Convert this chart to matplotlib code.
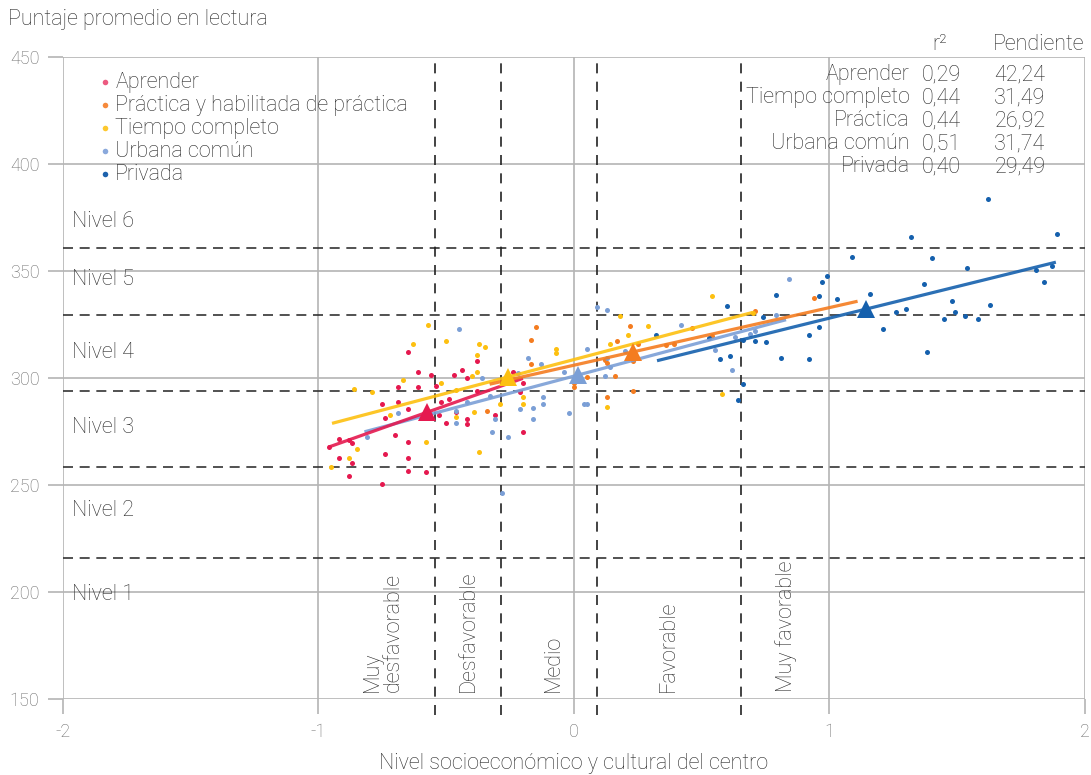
import matplotlib
matplotlib.use('Agg')
import matplotlib.pyplot as plt
import numpy as np

plt.rcParams['font.family'] = ['Roboto', 'DejaVu Sans']
plt.rcParams['font.weight'] = 'light'
plt.rcParams['axes.unicode_minus'] = False

# --- data ---
aprender_x = [-0.96, -0.92, -0.92, -0.88, -0.87, -0.88, -0.87, -0.75, -0.74, -0.75, -0.74, -0.70,
              -0.69, -0.69, -0.65, -0.65, -0.65, -0.65, -0.65, -0.61, -0.61, -0.58, -0.56, -0.54,
              -0.53, -0.52, -0.50, -0.49, -0.47, -0.46, -0.44, -0.42, -0.42, -0.42, -0.38, -0.38,
              -0.31, -0.24, -0.21, -0.20, -0.20]
aprender_y = [267.8, 271.5, 262.6, 271.0, 269.6, 254.2, 260.3, 287.9, 264.5, 250.5, 281.3, 273.4,
              295.8, 288.8, 312.1, 285.5, 270.1, 262.6, 256.5, 302.8, 295.8, 256.1, 301.4, 296.3,
              282.7, 288.8, 279.0, 290.2, 301.4, 284.1, 303.7, 280.8, 300.0, 278.5, 293.9, 307.9,
              282.7, 302.8, 293.5, 297.7, 274.8]

tiempo_x = [-0.95, -0.88, -0.86, -0.85, -0.79, -0.72, -0.67, -0.63, -0.58, -0.57, -0.52, -0.50,
            -0.46, -0.46, -0.40, -0.39, -0.38, -0.38, -0.37, -0.37, -0.35, -0.29, -0.20, -0.20,
            -0.07, -0.07, 0.13, 0.14, 0.18, 0.21, 0.29, 0.54, 0.58, 0.70]
tiempo_y = [258.4, 262.6, 294.9, 266.8, 293.5, 282.7, 299.1, 315.9, 270.1, 324.8, 297.7, 317.3,
            294.4, 281.8, 300.9, 284.1, 302.8, 310.7, 315.9, 265.4, 314.5, 287.9, 291.1, 287.9,
            313.6, 311.7, 286.4, 315.9, 329.0, 320.1, 324.3, 338.3, 292.5, 330.4]

practica_x = [-0.34, -0.17, -0.17, -0.15, 0.00, 0.00, 0.05, 0.12, 0.13, 0.13, 0.16, 0.17,
              0.22, 0.23, 0.23, 0.25, 0.36, 0.39, 0.46, 0.54, 0.71, 0.94]
practica_y = [284.6, 317.8, 306.5, 323.8, 297.7, 295.8, 300.5, 308.4, 307.0, 291.1, 300.9, 317.3,
              324.3, 307.9, 293.9, 315.9, 315.4, 315.9, 323.4, 319.6, 331.3, 337.4]

urbana_x = [-0.81, -0.69, -0.46, -0.46, -0.45, -0.42, -0.36, -0.33, -0.32, -0.31, -0.28, -0.26,
            -0.22, -0.21, -0.18, -0.16, -0.16, -0.13, -0.12, -0.12, -0.04, -0.02, 0.04, 0.05,
            0.05, 0.09, 0.12, 0.13, 0.13, 0.14, 0.20, 0.42, 0.55, 0.62, 0.63, 0.69, 0.71, 0.79, 0.84]
urbana_y = [272.4, 283.6, 284.6, 279.0, 322.9, 288.8, 300.0, 291.6, 274.8, 280.8, 246.3, 272.4,
            302.3, 285.5, 309.3, 286.0, 280.8, 306.5, 291.1, 287.9, 302.8, 283.6, 287.9, 287.9,
            313.6, 333.2, 300.9, 309.3, 331.8, 305.1, 312.6, 324.8, 313.1, 303.7, 319.2, 320.6,
            322.0, 329.4, 346.3]

privada_x = [0.32, 0.53, 0.57, 0.60, 0.61, 0.64, 0.66, 0.66, 0.71, 0.74, 0.75, 0.79, 0.81, 0.92,
             0.92, 0.96, 0.96, 0.97, 0.99, 1.03, 1.09, 1.16, 1.21, 1.26, 1.30, 1.32, 1.37, 1.38,
             1.40, 1.45, 1.48, 1.49, 1.53, 1.54, 1.58, 1.62, 1.63, 1.81, 1.84, 1.87, 1.89]
privada_y = [320.1, 318.7, 308.9, 333.6, 310.3, 289.7, 317.8, 297.2, 317.3, 328.5, 316.8, 338.8,
             309.3, 320.1, 308.9, 338.3, 323.8, 344.9, 347.7, 336.9, 356.5, 339.3, 322.9, 330.8,
             332.2, 365.9, 343.9, 312.1, 356.1, 327.6, 336.0, 330.8, 329.0, 351.4, 327.6, 383.6,
             334.1, 350.5, 344.9, 352.3, 367.3]

# group means (triangles), slopes and x range of fitted lines
mean_x = {'Aprender': -0.575, 'Tiempo': -0.258, 'Practica': 0.231, 'Urbana': 0.016, 'Privada': 1.143}
mean_y = {'Aprender': 284.0, 'Tiempo': 300.5, 'Practica': 312.2, 'Urbana': 301.4, 'Privada': 332.2}
slopes = {'Aprender': 42.24, 'Tiempo': 31.49, 'Practica': 26.92, 'Urbana': 31.74, 'Privada': 29.49}
line_range = {'Aprender': (-0.96, -0.20), 'Tiempo': (-0.947, 0.70), 'Practica': (-0.33, 1.11),
              'Urbana': (-0.82, 0.83), 'Privada': (0.325, 1.886)}

table_names = ['Aprender', 'Tiempo completo', 'Práctica', 'Urbana común', 'Privada']
table_r2 = ['0,29', '0,44', '0,44', '0,51', '0,40']
table_slope = ['42,24', '31,49', '26,92', '31,74', '29,49']

level_cuts = [216, 258.4, 294, 329.4, 360.7]
level_labels = ['Nivel 1', 'Nivel 2', 'Nivel 3', 'Nivel 4', 'Nivel 5', 'Nivel 6']
level_label_y = [199, 238, 277, 312, 346, 373]

nse_cuts = [-0.544, -0.286, 0.09, 0.654]
nse_labels = ['Muy\ndesfavorable', 'Desfavorable', 'Medio', 'Favorable', 'Muy favorable']
nse_label_x = [-0.748, -0.415, -0.082, 0.368, 0.830]

colors = {'Aprender': '#e5194f', 'Practica': '#f47c20', 'Tiempo': '#fdc010',
          'Urbana': '#7b9fd6', 'Privada': '#1560ad'}
legend_colors = {'Aprender': '#ec5a80', 'Practica': '#f68a3c', 'Tiempo': '#fdc82e',
                 'Urbana': '#8aa9dc', 'Privada': '#1d62ad'}

TXT = '#2a2a2a'
FS = 15.5

fig = plt.figure(figsize=(10.91, 7.75), dpi=100)
ax = fig.add_axes([0.0577, 0.098, 0.9368, 0.8285])
ax.set_xlim(-2, 2)
ax.set_ylim(150, 450)
ax.set_xticks([-2, -1, 0, 1, 2])
ax.set_yticks([150, 200, 250, 300, 350, 400, 450])
ax.grid(True, color='#b4b4b4', linewidth=1.2)
ax.set_axisbelow(True)
for s in ax.spines.values():
    s.set_visible(False)
ax.tick_params(length=11, width=1.2, color='#b4b4b4', labelcolor='#6a6a6a', labelsize=13, pad=6)

for yc in level_cuts:
    ax.axhline(yc, color='#333333', linewidth=1.2, dashes=(6, 4), zorder=1)
for xc in nse_cuts:
    ax.axvline(xc, ymin=-0.025, ymax=1, color='#222222', linewidth=1.2, dashes=(6, 5), zorder=1, clip_on=False)

groups = [('Aprender', aprender_x, aprender_y, 'Aprender'),
          ('Practica', practica_x, practica_y, 'Práctica y habilitada de práctica'),
          ('Tiempo', tiempo_x, tiempo_y, 'Tiempo completo'),
          ('Urbana', urbana_x, urbana_y, 'Urbana común'),
          ('Privada', privada_x, privada_y, 'Privada')]

for key, xs, ys, lab in groups:
    ax.scatter(xs, ys, s=13, color=colors[key], zorder=3, linewidths=0)

for key in ['Tiempo', 'Urbana', 'Aprender', 'Practica', 'Privada']:
    x0, x1 = line_range[key]
    lx = np.array([x0, x1])
    ly = mean_y[key] + slopes[key] * (lx - mean_x[key])
    ax.plot(lx, ly, color=colors[key], linewidth=2.3, alpha=0.9, zorder=4, solid_capstyle='butt')
    ax.plot(mean_x[key], mean_y[key], marker='^', markersize=13, color=colors[key], zorder=5,
            markeredgewidth=0)

# legend, drawn by hand
for i, (key, xs, ys, lab) in enumerate(groups):
    yy = 438.3 - i * 10.75
    ax.scatter([-1.836], [yy], s=16, color=legend_colors[key], linewidths=0, zorder=6)
    ax.text(-1.795, yy, lab, ha='left', va='center', fontsize=FS, color=TXT)

# stats table
ax.text(1.432, 456, 'r²', ha='center', va='center', fontsize=FS, color=TXT, clip_on=False)
ax.text(1.64, 456, 'Pendiente', ha='left', va='center', fontsize=FS, color=TXT, clip_on=False)
for i, name in enumerate(table_names):
    yy = 441.6 - i * 10.7
    ax.text(1.315, yy, name, ha='right', va='center', fontsize=FS, color=TXT)
    ax.text(1.362, yy, table_r2[i], ha='left', va='center', fontsize=FS, color=TXT)
    ax.text(1.645, yy, table_slope[i], ha='left', va='center', fontsize=FS, color=TXT)

for lab, ly in zip(level_labels, level_label_y):
    ax.text(-1.965, ly, lab, ha='left', va='center', fontsize=FS, color=TXT)

for lab, lx in zip(nse_labels, nse_label_x):
    ax.text(lx, 153.3, lab, rotation=90, ha='center', va='bottom', multialignment='left',
            fontsize=FS, color=TXT, linespacing=0.95)

fig.text(8 / 1091, 1 - 20 / 775, 'Puntaje promedio en lectura', ha='left', va='center',
         fontsize=FS, color=TXT)
fig.text(574 / 1091, 1 - 763 / 775, 'Nivel socioeconómico y cultural del centro', ha='center',
         va='center', fontsize=FS, color=TXT)

fig.savefig('out.png', dpi=100)
